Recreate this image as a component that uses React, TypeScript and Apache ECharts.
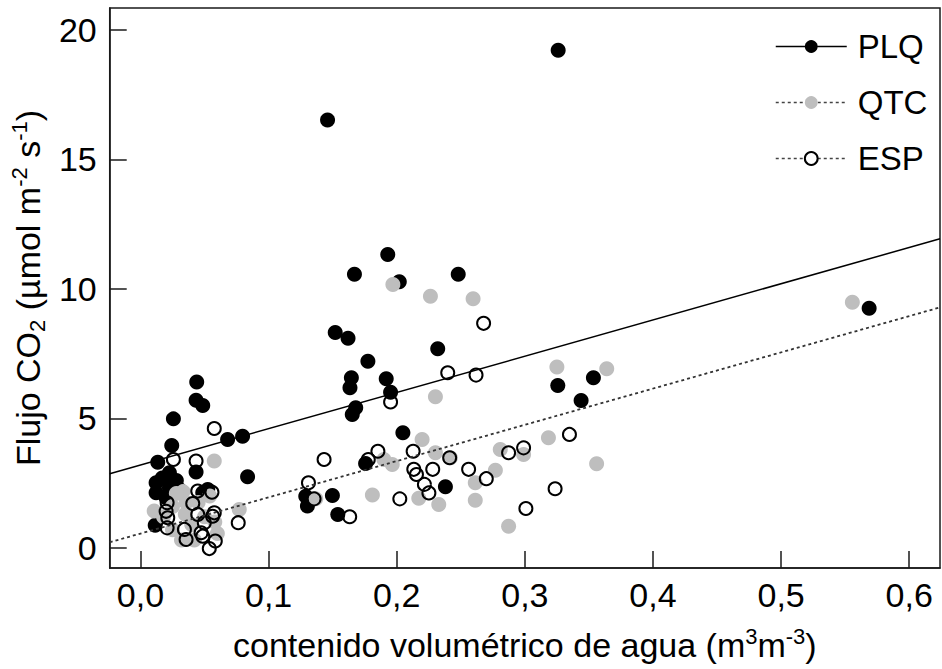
import React, { useEffect, useRef } from "react";
import * as echarts from "echarts";

const FONT = "'Liberation Sans', Arial, sans-serif";

// contenido volumétrico de agua (m3 m-3), Flujo CO2
const plqPoints: number[][] = [
  [0.326, 19.22], [0.146, 16.52], [0.193, 11.33], [0.167, 10.57], [0.202, 10.28], [0.248, 10.57],
  [0.152, 8.32], [0.162, 8.09], [0.1775, 7.21], [0.232, 7.69], [0.1646, 6.57], [0.1635, 6.18],
  [0.1918, 6.53], [0.1952, 6.01], [0.168, 5.41], [0.1653, 5.15], [0.2048, 4.44], [0.1757, 3.26],
  [0.129, 1.99], [0.1303, 1.61], [0.1498, 2.02], [0.154, 1.29], [0.238, 2.36], [0.3257, 6.27],
  [0.3535, 6.57], [0.3439, 5.69], [0.5687, 9.25],
  [0.0439, 6.4], [0.0434, 5.7], [0.0486, 5.5], [0.0257, 4.98], [0.068, 4.18], [0.0797, 4.31],
  [0.0244, 3.95], [0.0836, 2.74], [0.0135, 3.3], [0.0434, 2.93], [0.0226, 2.9], [0.0122, 2.51],
  [0.0226, 2.32], [0.0122, 2.13], [0.02, 1.93], [0.0304, 2.25], [0.0486, 2.13], [0.0525, 2.25],
  [0.0115, 0.87], [0.017, 2.7], [0.028, 2.6],
];

const qtcPoints: number[][] = [
  [0.5556, 9.48], [0.197, 10.17], [0.2263, 9.72], [0.2596, 9.62], [0.325, 6.98], [0.3639, 6.92],
  [0.2302, 5.83], [0.3184, 4.25], [0.356, 3.25], [0.2808, 3.8], [0.299, 3.6], [0.277, 3.0],
  [0.2613, 2.51], [0.2613, 1.84], [0.2328, 1.67], [0.2873, 0.83], [0.2302, 3.67], [0.2419, 3.48],
  [0.2198, 4.18], [0.1965, 3.22], [0.181, 2.04], [0.2172, 1.91], [0.1368, 1.89], [0.19, 3.41],
  [0.0576, 3.35], [0.0771, 1.48], [0.0107, 1.42], [0.018, 1.2], [0.025, 0.7], [0.032, 0.3],
  [0.04, 0.9], [0.0332, 2.17], [0.0356, 1.75], [0.045, 1.75], [0.05, 1.2], [0.058, 1.0],
  [0.06, 0.55], [0.025, 1.6], [0.042, 0.3], [0.054, 2.0], [0.035, 1.3], [0.028, 2.1],
];

const espPoints: number[][] = [
  [0.2678, 8.67], [0.2398, 6.76], [0.2619, 6.67], [0.1952, 5.63], [0.0576, 4.61], [0.1433, 3.41],
  [0.1853, 3.73], [0.1778, 3.41], [0.1311, 2.51], [0.1355, 1.89], [0.1633, 1.2], [0.2024, 1.89],
  [0.2128, 3.73], [0.2133, 3.03], [0.2154, 2.83], [0.2281, 3.03], [0.2216, 2.45], [0.2251, 2.12],
  [0.2413, 3.48], [0.299, 3.86], [0.2873, 3.67], [0.3348, 4.38], [0.2561, 3.03], [0.2699, 2.67],
  [0.3236, 2.28], [0.3008, 1.52],
  [0.0257, 3.41], [0.0434, 3.35], [0.0558, 2.15], [0.0763, 0.97], [0.0208, 1.74], [0.0213, 1.16],
  [0.0208, 0.77], [0.0408, 1.71], [0.0447, 1.29], [0.0343, 0.71], [0.0356, 0.32], [0.0486, 0.45],
  [0.0537, -0.03], [0.0584, 0.26], [0.0498, 0.97], [0.0576, 1.35], [0.0447, 2.19], [0.02, 1.41],
  [0.0563, 1.22], [0.0473, 0.58],
];

// fitted lines: intercept, slope
const plqFit = [3.2, 14.0];
const espFit = [0.55, 14.0];

const xRange = [-0.024, 0.624];
const yRange = [-0.78, 20.85];

const seriesNames = ["PLQ", "QTC", "ESP"];

function fitLine(fit: number[]) {
  return xRange.map((x) => [x, fit[0] + fit[1] * x]);
}

export default function App() {
  const ref = useRef<HTMLDivElement>(null);
  useEffect(() => {
    if (!ref.current) return;
    const chart = echarts.init(ref.current, null, { renderer: "svg" });
    const base = { fontFamily: FONT, color: "#000" };
    const rich = {
      n: { ...base, fontSize: 34, lineHeight: 40 },
      sup: { ...base, fontSize: 22, lineHeight: 21, verticalAlign: "top" },
      sub: { ...base, fontSize: 22, lineHeight: 21, verticalAlign: "bottom" },
    };
    chart.setOption({
      animation: false,
      backgroundColor: "#fff",
      grid: {
        left: 108, right: 2, top: 8, bottom: 101,
        show: true, borderColor: "#1a1a1a", borderWidth: 1.5, backgroundColor: "transparent",
      },
      legend: {
        orient: "vertical",
        left: 775,
        top: 27,
        padding: 0,
        itemWidth: 71,
        itemHeight: 16,
        itemGap: 17,
        textStyle: { fontFamily: FONT, fontSize: 33, color: "#000", lineHeight: 39, padding: [0, 0, 0, 6] },
        data: [
          { name: seriesNames[0], lineStyle: { color: "#000", width: 1.5, type: "solid" }, itemStyle: { color: "#000" } },
          { name: seriesNames[1], lineStyle: { color: "#444", width: 1.5, type: [3, 3] }, itemStyle: { color: "#bebebe" } },
          { name: seriesNames[2], lineStyle: { color: "#444", width: 1.5, type: [3, 3] }, itemStyle: { color: "#000" } },
        ],
      },
      xAxis: {
        type: "value",
        min: xRange[0],
        max: xRange[1],
        minInterval: 0.1,
        maxInterval: 0.1,
        splitLine: { show: false },
        axisLine: { show: true, onZero: false, lineStyle: { color: "#1a1a1a", width: 1.5 } },
        axisTick: { show: true, inside: true, length: 17, lineStyle: { color: "#1a1a1a", width: 1.5 } },
        axisLabel: {
          margin: 10,
          fontFamily: FONT,
          fontSize: 34,
          color: "#000",
          showMinLabel: false,
          showMaxLabel: false,
          formatter: (v: number) =>
            Math.abs(v * 10 - Math.round(v * 10)) < 1e-6 ? v.toFixed(1).replace(".", ",") : "",
        },
        name: "{n|contenido volumétrico de agua (m}{sup|3}{n|m}{sup|-3}{n|)}",
        nameLocation: "middle",
        nameGap: 57,
        nameTextStyle: { rich },
      },
      yAxis: {
        type: "value",
        min: yRange[0],
        max: yRange[1],
        minInterval: 5,
        maxInterval: 5,
        splitLine: { show: false },
        axisLine: { show: true, onZero: false, lineStyle: { color: "#1a1a1a", width: 1.5 } },
        axisTick: { show: true, inside: true, length: 17, lineStyle: { color: "#1a1a1a", width: 1.5 } },
        axisLabel: {
          margin: 13,
          fontFamily: FONT,
          fontSize: 34,
          color: "#000",
          showMinLabel: false,
          showMaxLabel: false,
          formatter: (v: number) => (Math.abs(v / 5 - Math.round(v / 5)) < 1e-6 ? String(Math.round(v)) : ""),
        },
        name: "{n|Flujo CO}{sub|2}{n| (µmol m}{sup|-2}{n| s}{sup|-1}{n|)}",
        nameLocation: "middle",
        nameGap: 59,
        nameTextStyle: { rich },
      },
      series: [
        {
          name: seriesNames[0], type: "line", z: 5, data: fitLine(plqFit), symbol: "circle",
          showSymbol: false, itemStyle: { color: "#000" }, lineStyle: { color: "#000", width: 1.5 },
        },
        {
          name: seriesNames[1], type: "line", z: 5, data: [], symbol: "circle",
          showSymbol: false, itemStyle: { color: "#bebebe" }, lineStyle: { color: "#444", width: 1.5, type: [3, 3] },
        },
        {
          name: seriesNames[2], type: "line", z: 5, data: fitLine(espFit), symbol: "emptyCircle",
          showSymbol: false, itemStyle: { color: "#000" }, lineStyle: { color: "#333", width: 1.8, type: [3, 3] },
        },
        {
          name: seriesNames[0], type: "scatter", z: 2, data: plqPoints, symbol: "circle", symbolSize: 15,
          itemStyle: { color: "#000", opacity: 1 },
        },
        {
          name: seriesNames[1], type: "scatter", z: 2, data: qtcPoints, symbol: "circle", symbolSize: 15,
          itemStyle: { color: "#bebebe", opacity: 1 },
        },
        {
          name: seriesNames[2], type: "scatter", z: 2, data: espPoints, symbol: "circle", symbolSize: 13,
          itemStyle: { color: "rgba(255,255,255,0)", borderColor: "#000", borderWidth: 2, opacity: 1 },
        },
      ],
    });
    return () => chart.dispose();
  }, []);
  return <div ref={ref} style={{ position: "fixed", left: 0, top: 0, width: 942, height: 669 }} />;
}
